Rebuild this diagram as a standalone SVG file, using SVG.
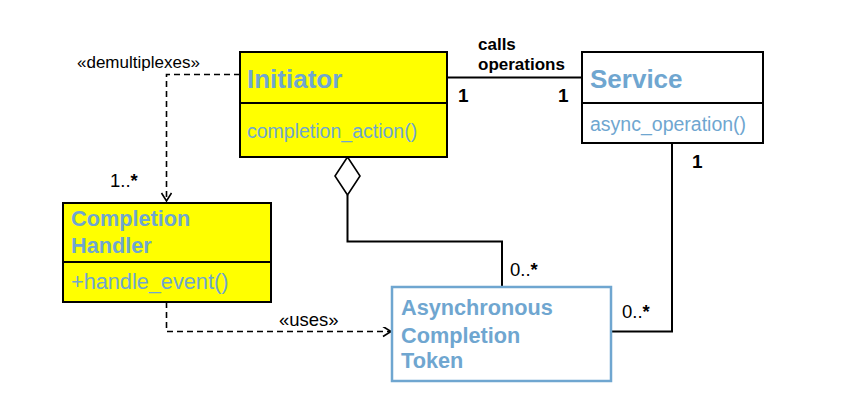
<svg xmlns="http://www.w3.org/2000/svg" width="842" height="415" viewBox="0 0 842 415">
<style>
text{font-family:"Liberation Sans",Arial,sans-serif}
.box{stroke:#000;stroke-width:2}
.yel{fill:#ffff00}
.wht{fill:#fff}
.ttl{fill:#6fa6d0;font-weight:bold}
.op{fill:#6fa6d0}
.ln{fill:none;stroke:#000;stroke-width:2}
.dash{fill:none;stroke:#000;stroke-width:1.6;stroke-dasharray:6 4}
.lbl{fill:#000}
.b{font-weight:bold}
</style>
<defs>
<marker id="open" markerWidth="12" markerHeight="12" refX="9" refY="5" orient="auto" markerUnits="userSpaceOnUse">
<path d="M1,0 L9,5 L1,10" fill="none" stroke="#000" stroke-width="1.6"/>
</marker>
</defs>
<rect width="842" height="415" fill="#fff"/>
<g id="connectors">
<line class="ln" x1="447" y1="77.5" x2="582" y2="77.5"/>
<polyline class="ln" points="672,143 672,331.5 611,331.5"/>
<polygon points="347.5,157 360,176 347.5,195 335,176" fill="#fff" stroke="#000" stroke-width="1.6"/>
<polyline class="ln" points="347.5,195 347.5,241.5 502,241.5 502,287"/>
<polyline class="dash" points="240,74.5 166.5,74.5 166.5,201" marker-end="url(#open)"/>
<polyline class="dash" points="166.5,302 166.5,331.5 391,331.5" marker-end="url(#open)"/>
<text class="lbl b" x="478" y="50" font-size="17">calls</text>
<text class="lbl b" x="478" y="70" font-size="17">operations</text>
<text class="lbl b" x="458" y="102" font-size="19">1</text>
<text class="lbl b" x="558" y="102" font-size="19">1</text>
<text class="lbl b" x="692" y="168" font-size="19">1</text>
<text class="lbl" x="77" y="68" font-size="17">«demultiplexes»</text>
<text class="lbl" x="110" y="187" font-size="18.5">1..<tspan class="b">*</tspan></text>
<text class="lbl" x="279" y="326" font-size="18.5">«uses»</text>
<text class="lbl" x="510" y="276" font-size="18.5">0..<tspan class="b">*</tspan></text>
<text class="lbl" x="622" y="318" font-size="18.5">0..<tspan class="b">*</tspan></text>
</g>
<g id="initiator">
<rect class="box yel" x="240" y="52" width="207" height="105"/>
<line class="box" x1="240" y1="103" x2="447" y2="103"/>
<text class="ttl" x="247" y="88" font-size="26">Initiator</text>
<text class="op" x="247" y="138" font-size="19.5">completion_action()</text>
</g>
<g id="service">
<rect class="box wht" x="582" y="52" width="181" height="91"/>
<line class="box" x1="582" y1="103" x2="763" y2="103"/>
<text class="ttl" x="590" y="87.5" font-size="26">Service</text>
<text class="op" x="590" y="130.5" font-size="19.5">async_operation()</text>
</g>
<g id="completion-handler">
<rect class="box yel" x="63" y="203" width="208" height="99"/>
<line class="box" x1="63" y1="262" x2="271" y2="262"/>
<text class="ttl" x="71" y="226" font-size="21.7">Completion</text>
<text class="ttl" x="71" y="253" font-size="21.7">Handler</text>
<text class="op" x="71" y="289" font-size="21.7">+handle_event()</text>
</g>
<g id="token">
<rect x="392" y="287" width="219" height="94" fill="#fff" stroke="#6fa6d0" stroke-width="2.5"/>
<text class="ttl" x="401" y="315" font-size="21.7">Asynchronous</text>
<text class="ttl" x="401" y="342.5" font-size="21.7">Completion</text>
<text class="ttl" x="401" y="368" font-size="21.7">Token</text>
</g>
</svg>
